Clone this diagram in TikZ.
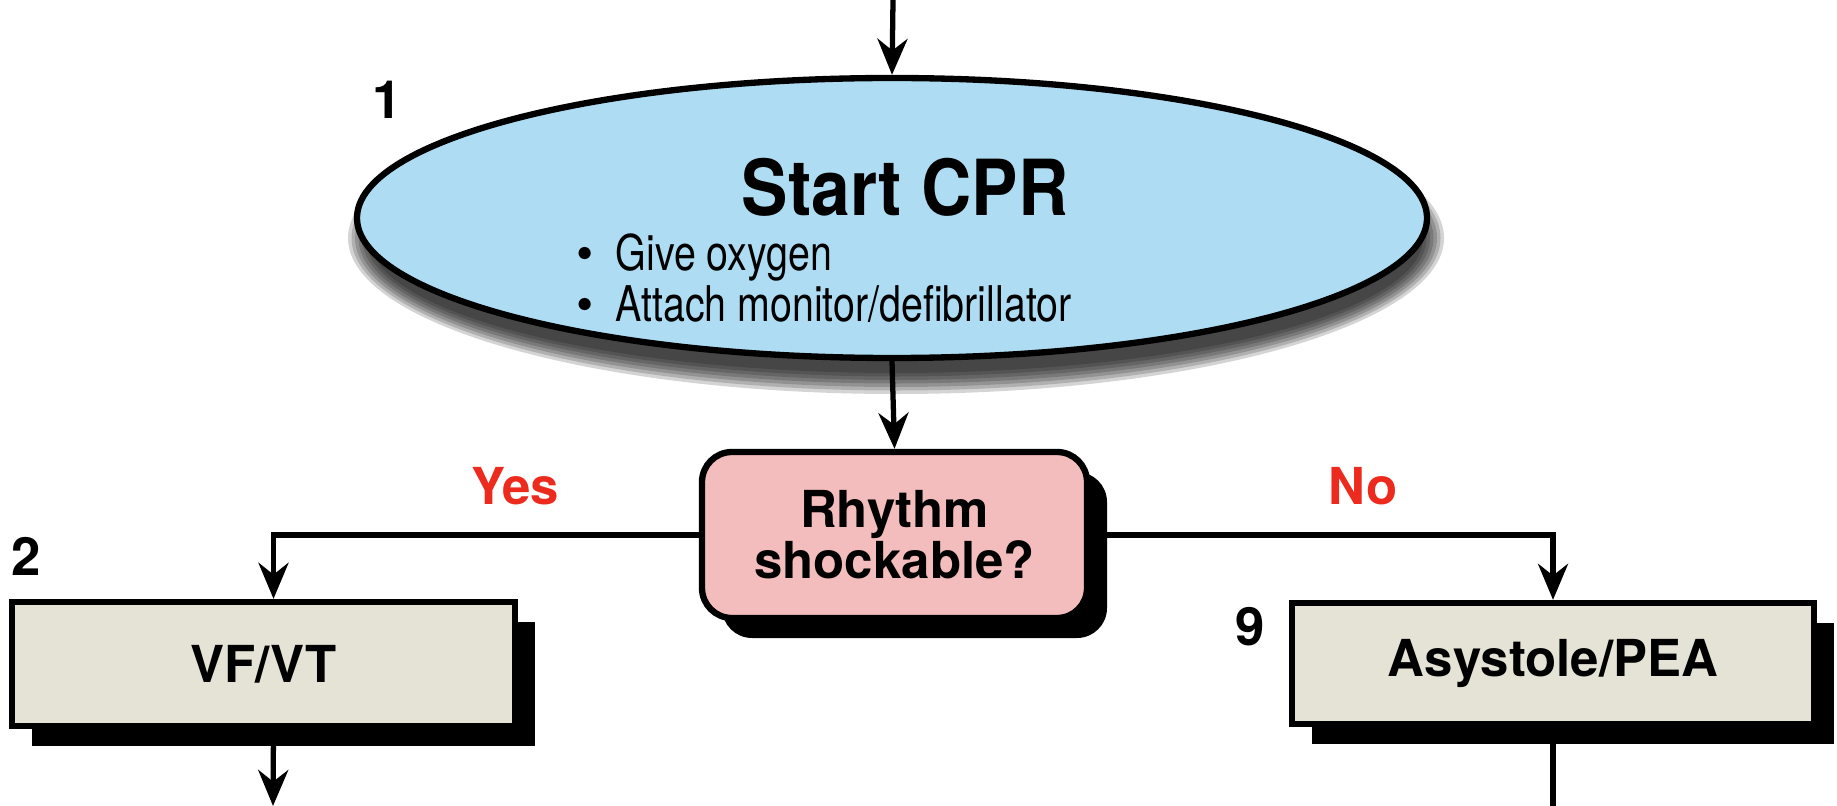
\documentclass[tikz,border=0pt]{standalone}
\usepackage{fontspec}
\setmainfont{TeX Gyre Heros}
\newfontfamily\narrowfont[FakeStretch=0.8]{TeX Gyre Heros}
\newfontfamily\titlefont[FakeStretch=0.9]{TeX Gyre Heros}
\usetikzlibrary{shapes.geometric,shadows,arrows.meta}
\definecolor{cprblue}{HTML}{AEDDF3}
\definecolor{rhypink}{HTML}{F4BDBD}
\definecolor{boxgray}{HTML}{E5E3D6}
\definecolor{ansred}{HTML}{EC2A1E}
\newcommand{\bigdot}{{\rmfamily\textbullet}}
\begin{document}
\begin{tikzpicture}[line width=1.5pt,>={Stealth[length=3.6mm,width=3mm]},
  hardshadow/.style={drop shadow={shadow xshift=0.2cm,shadow yshift=-0.2cm,fill=black,opacity=1}},
  stepbox/.style={draw,line width=1.8pt,fill=boxgray,inner sep=0pt,hardshadow,
    font=\bfseries\fontsize{14.5}{14.5}\selectfont},
  num/.style={font=\bfseries\fontsize{15}{15}\selectfont},
  answer/.style={text=ansred,font=\bfseries\fontsize{14.5}{14.5}\selectfont}]
 \useasboundingbox (0,0) rectangle (18.37,-8.06);
 % soft shadow under the ellipse
 \foreach \k in {0,...,6}
  \fill[black,opacity=0.17] (8.96,-2.38) ellipse [x radius={5.27+0.035*\k},y radius={1.35+0.035*\k}];
 \node[ellipse,draw,line width=1.8pt,fill=cprblue,minimum width=10.7cm,minimum height=2.8cm,inner sep=0pt] (cpr) at (8.92,-2.18) {};
 \node[font=\titlefont\bfseries\fontsize{22}{24}\selectfont] (cprtitle) at (9.05,-1.87) {Start CPR};
 \node[anchor=west,align=left,inner sep=0pt,font=\narrowfont\fontsize{14}{13}\selectfont] (cprlist) at (5.74,-2.78)
  {\bigdot\ \ Give oxygen\\ \bigdot\ \ Attach monitor/defibrillator};
 \node[draw,line width=1.8pt,fill=rhypink,rounded corners=3mm,minimum width=3.85cm,minimum height=1.66cm,
  align=center,hardshadow,font=\bfseries\fontsize{14.5}{14.5}\selectfont] (rhythm) at (8.945,-5.35) {Rhythm\\shockable?};
 \node[stepbox,minimum width=5.03cm,minimum height=1.24cm] (vfvt) at (2.635,-6.64) {VF/VT};
 \node[stepbox,minimum width=5.22cm,minimum height=1.21cm] (asys) at (15.53,-6.635) {Asystole/PEA};
 % numbers and answers
 \node[num] (n1) at (3.87,-1.0) {1};
 \node[num] (n2) at (0.26,-5.56) {2};
 \node[num] (n9) at (12.5,-6.27) {9};
 \node[answer] (yes) at (5.15,-4.86) {Yes};
 \node[answer] (no) at (13.63,-4.86) {No};
 % connectors
 \coordinate (topin) at (8.93,0);
 \coordinate (vfout) at (2.73,-8.06);
 \coordinate (asysout) at (15.53,-8.06);
 \draw[->] (topin) -- (cpr.north);
 \draw[->] (cpr.south) -- (rhythm.north);
 \draw[->] (rhythm.west) -| ([xshift=0.1cm]vfvt.north);
 \draw[->] (rhythm.east) -| (asys.north);
 \draw[->] ([xshift=0.1cm]vfvt.south) -- (vfout);
 \draw (asys.south) -- (asysout);
\end{tikzpicture}
\end{document}
